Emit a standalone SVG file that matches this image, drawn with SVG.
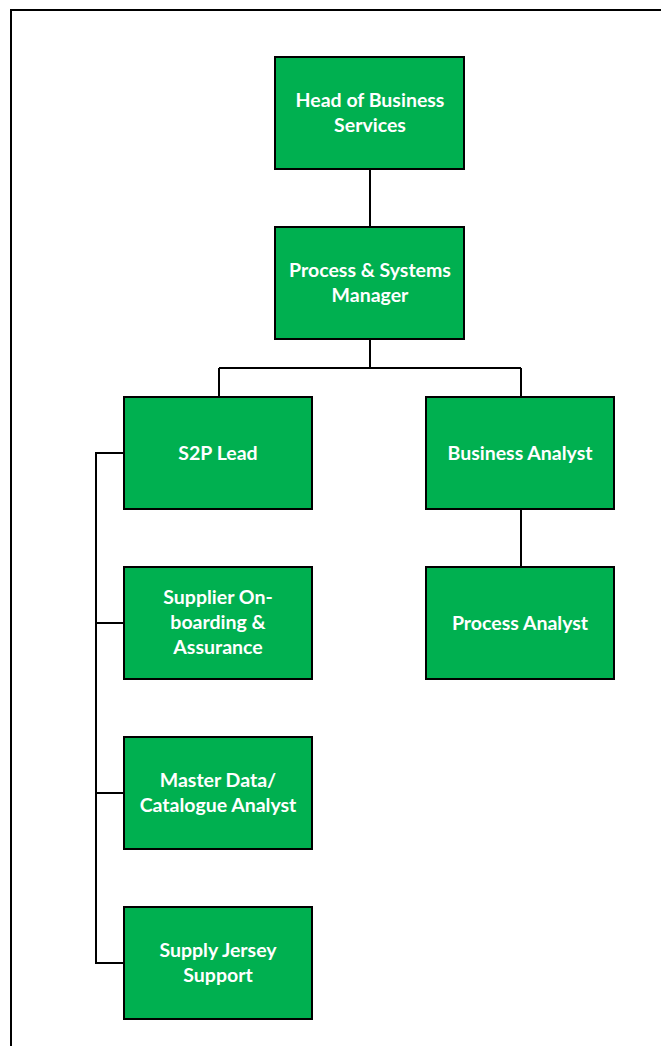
<svg xmlns="http://www.w3.org/2000/svg" width="661" height="1046" viewBox="0 0 661 1046">
<style>
.box{fill:#00B050;stroke:#000;stroke-width:2}
.t{font-family:Lato,"Liberation Sans",sans-serif;font-weight:bold;font-size:19.5px;fill:#fff;text-anchor:middle}
.c{stroke:#000;stroke-width:2;fill:none}
</style>
<rect x="11" y="10" width="660" height="1046" fill="#fff" stroke="#000" stroke-width="2"/>
<g id="connectors">
<path class="c" d="M370,169V227M370,339V368M219,368H521M219,368V397M521,368V397M521,509V567"/>
<path class="c" d="M124,453H96V963H124M96,623H124M96,793H124"/>
</g>
<g id="head"><rect class="box" x="275" y="57" width="189" height="112"/><text class="t" x="370" y="107">Head of Business</text><text class="t" x="370" y="132">Services</text></g>
<g id="psm"><rect class="box" x="275" y="227" width="189" height="112"/><text class="t" x="370" y="277">Process &amp; Systems</text><text class="t" x="370" y="302">Manager</text></g>
<g id="s2p"><rect class="box" x="124" y="397" width="188" height="112"/><text class="t" x="218" y="460">S2P Lead</text></g>
<g id="ba"><rect class="box" x="426" y="397" width="188" height="112"/><text class="t" x="520" y="460">Business Analyst</text></g>
<g id="sob"><rect class="box" x="124" y="567" width="188" height="112"/><text class="t" x="218" y="604">Supplier On-</text><text class="t" x="218" y="629">boarding &amp;</text><text class="t" x="218" y="654">Assurance</text></g>
<g id="pa"><rect class="box" x="426" y="567" width="188" height="112"/><text class="t" x="520" y="630">Process Analyst</text></g>
<g id="md"><rect class="box" x="124" y="737" width="188" height="112"/><text class="t" x="218" y="787">Master Data/</text><text class="t" x="218" y="812">Catalogue Analyst</text></g>
<g id="sj"><rect class="box" x="124" y="907" width="188" height="112"/><text class="t" x="218" y="957">Supply Jersey</text><text class="t" x="218" y="982">Support</text></g>
</svg>
